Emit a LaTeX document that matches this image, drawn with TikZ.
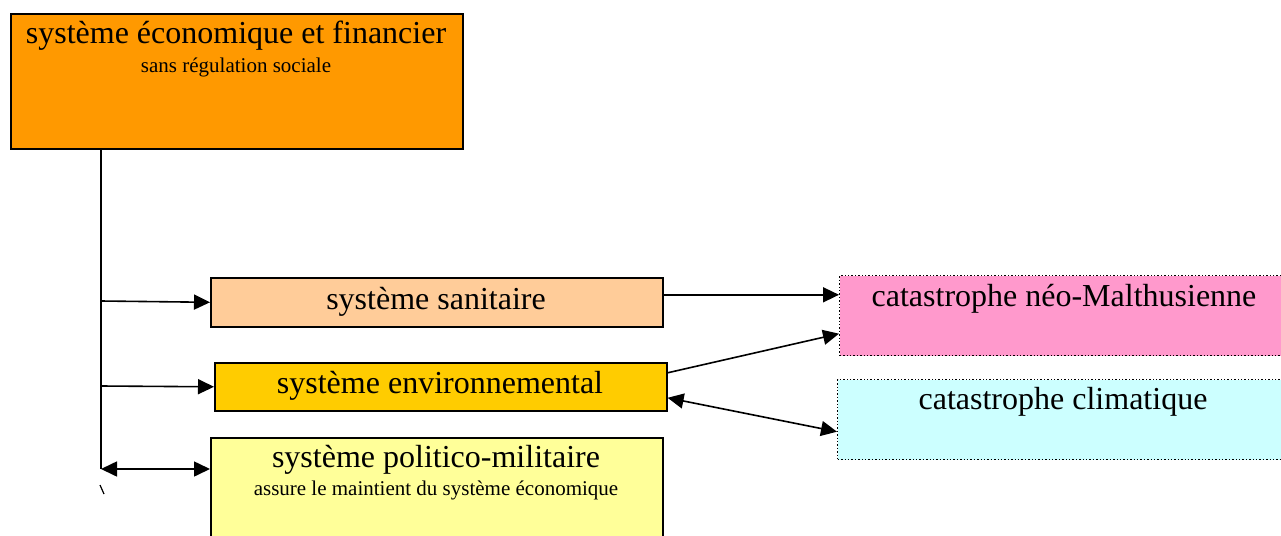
\documentclass[tikz,border=0pt]{standalone}
\usepackage{fontspec}
\setmainfont{Liberation Serif}
\usetikzlibrary{arrows.meta}
\definecolor{ecofill}{HTML}{FF9900}
\definecolor{sanfill}{HTML}{FFCC99}
\definecolor{envfill}{HTML}{FFCC00}
\definecolor{polfill}{HTML}{FFFF99}
\definecolor{malfill}{HTML}{FF99CC}
\definecolor{climfill}{HTML}{CCFFFF}
\tikzset{
  sysbox/.style={draw,line width=1.6pt,inner sep=0pt,anchor=north west},
  catbox/.style={draw,dotted,line width=1.4pt,inner sep=0pt,anchor=north west},
  big/.style={anchor=base,inner sep=0pt,font=\fontsize{32}{38}\selectfont},
  small/.style={anchor=base,inner sep=0pt,font=\fontsize{21}{25}\selectfont},
  arr/.style={line width=1.6pt,-{Triangle[length=16pt,width=15pt]}},
  dblarr/.style={line width=1.6pt,{Triangle[length=16pt,width=15pt]}-{Triangle[length=16pt,width=15pt]}}
}
\begin{document}
\begin{tikzpicture}[x=1pt,y=-1pt]
\useasboundingbox (0,0) rectangle (1281,535);
\node[sysbox,fill=ecofill,minimum width=452pt,minimum height=135pt]
(eco) at (10,13) {};
\node[big]
(ecot) at (236,44) {système économique et financier};
\node[small]
(ecos) at (236,72) {sans régulation sociale};
\node[sysbox,fill=sanfill,minimum width=452pt,minimum height=49pt]
(san) at (210,277) {};
\node[big]
(sant) at (436,309) {système sanitaire};
\node[sysbox,fill=envfill,minimum width=452pt,minimum height=48pt]
(env) at (214,362) {};
\node[big]
(envt) at (440,393) {système environnemental};
\node[sysbox,fill=polfill,minimum width=452pt,minimum height=110pt]
(pol) at (210,437) {};
\node[big]
(polt) at (436,467) {système politico-militaire};
\node[small]
(pols) at (436,495) {assure le maintient du système économique};
\node[catbox,fill=malfill,minimum width=451pt,minimum height=80pt]
(mal) at (839,275) {};
\node[big]
(malt) at (1064,306) {catastrophe néo-Malthusienne};
\node[catbox,fill=climfill,minimum width=453pt,minimum height=80pt]
(clim) at (837,379) {};
\node[big]
(climt) at (1063,409) {catastrophe climatique};
\coordinate (t1) at (101,301);
\coordinate (t2) at (101,386);
\coordinate (t3) at (101,469);
\coordinate (k1) at (100,485);
\coordinate (k2) at (104,494);
\draw[line width=1.4pt](eco.south -| t3) -- (t3);
\draw[arr](t1) -- (san.west);
\draw[arr](t2) -- (env.west);
\draw[dblarr](t3) -- (t3 -| pol.west);
\draw[line width=1.2pt](k1) -- (k2);
\draw[arr]([yshift=7.5pt]san.east) -- ([yshift=7.5pt]san.east -| mal.west);
\draw[arr]([yshift=14pt]env.east) -- ([yshift=-18pt]mal.west);
\draw[dblarr]([yshift=-11pt]env.east) -- ([yshift=-12pt]clim.west);
\end{tikzpicture}
\end{document}
